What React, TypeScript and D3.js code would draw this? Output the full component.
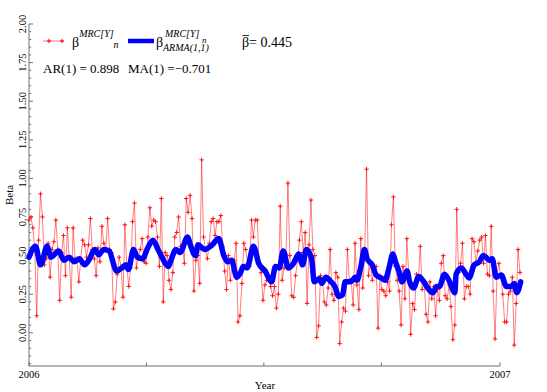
import React from "react";
import * as d3 from "d3";

// MRC beta estimates (daily), 2006 – mid Jan 2007
const RED_VALUES: number[] = [
  0.73, 0.75, 0.68, 0.54, 0.11, 0.60, 0.90, 0.75, 0.44, 0.48, 0.58, 0.36, 0.54, 0.59, 0.73, 0.54, 0.21, 0.52, 0.63, 0.37, 0.68, 0.48, 0.23, 0.68, 0.48, 0.47, 0.33, 0.48, 0.60, 0.57, 0.49, 0.57, 0.74, 0.54, 0.48, 0.37, 0.55, 0.46, 0.69, 0.58, 0.54, 0.74,
  0.54, 0.52, 0.155, 0.20, 0.38, 0.49, 0.43, 0.23, 0.70, 0.43, 0.30, 0.42, 0.72, 0.84, 0.42, 0.48, 0.54, 0.61, 0.46, 0.45, 0.62, 0.81, 0.69, 0.73, 0.72, 0.62, 0.43, 0.87, 0.20, 0.52, 0.50, 0.34, 0.28, 0.39, 0.62, 0.65, 0.75, 0.56, 0.56, 0.45, 0.87, 0.78, 0.89, 0.74, 0.27,
  0.47, 0.50, 0.32, 1.12, 0.62, 0.54, 0.48, 0.58, 0.72, 0.74, 0.63, 0.72, 0.72, 0.76, 0.56, 0.40, 0.28, 0.50, 0.34, 0.45, 0.47, 0.58, 0.07, 0.11, 0.32, 0.58, 0.54, 0.45, 0.43, 0.73, 0.62, 0.73, 0.73, 0.45, 0.39, 0.21, 0.31, 0.34, 0.36, 0.30, 0.24, 0.30, 0.16, 0.25, 0.82,
  0.34, 0.42, 0.51, 0.97, 0.50, 0.24, 0.23, 0.37, 0.47, 0.60, 0.72, 0.52, 0.65, 0.19, 0.57, 0.86, 0.54, 0.50, -0.03, 0.045, 0.37, 0.34, 0.20, 0.18, 0.29, 0.54, 0.25, 0.21, 0.39, 0.36, -0.07, 0.07, 0.16, 0.14, 0.54, 0.34, 0.33, 0.18, 0.58, 0.31, 0.15, 0.61,
  0.29, 0.50, 1.06, 0.37, 0.45, 0.34, 0.41, 0.43, 0.03, 0.37, 0.28, 0.27, 0.24, 0.33, 0.27, 0.70, 0.88, 0.43, 0.34, 0.27, 0.05, 0.43, 0.22, 0.61, 0.38, -0.01, 0.19, 0.15, 0.38, 0.34, 0.56, 0.28, 0.33, 0.12, 0.07, 0.33, 0.22, 0.30, 0.11, 0.28, 0.21,
  0.45, 0.50, 0.24, 0.22, 0.31, 0.17, -0.045, 0.05, 0.80, 0.39, 0.45, 0.58, 0.22, 0.30, 0.30, 0.25, 0.61, 0.59, 0.45, 0.53, 0.60, 0.62, 0.45, 0.63, 0.38, 0.37, 0.69, 0.27, -0.04, 0.37, 0.45, 0.36, 0.25, 0.07, 0.07, 0.25, 0.27, 0.36, -0.08, 0.19, 0.54, 0.39,
];

// ARMA(1,1) fitted beta: days since 2006-01-01 and values
const BLUE_DAYS: number[] = [
  0, 5, 9, 14, 17, 23, 27, 31, 35, 39, 43, 47, 51, 54, 58, 62, 68, 72, 75, 77, 81, 84, 88, 92, 96, 100, 103, 108, 110, 114, 117, 123, 125, 129, 131, 136, 142, 147, 151, 154, 157, 161, 164, 166, 169, 174, 178, 183, 188, 191, 194, 197, 201, 205, 209, 212, 215, 219, 221, 225, 227, 230, 234, 237, 240, 243, 245, 249, 253, 254, 257, 260, 262, 266, 269, 273, 276, 279, 282, 284, 287, 289, 293, 295, 298, 302, 306, 309, 313, 316, 318, 322, 326, 330, 331, 335, 339, 341, 345, 349, 352, 354, 357, 359, 362, 366, 370, 374, 376, 378, 381,
];
const BLUE_VALUES: number[] = [
  0.49, 0.56, 0.44, 0.56, 0.49, 0.53, 0.47, 0.49, 0.46, 0.48, 0.44, 0.48, 0.54, 0.505, 0.54, 0.53, 0.40, 0.42, 0.44, 0.41, 0.54, 0.49, 0.48, 0.55, 0.60, 0.54, 0.49, 0.43, 0.47, 0.54, 0.52, 0.62, 0.57, 0.50, 0.57, 0.54, 0.57, 0.61, 0.50, 0.46, 0.47, 0.36, 0.39, 0.43, 0.42, 0.56, 0.45, 0.40, 0.33, 0.43, 0.42, 0.53, 0.42, 0.45, 0.51, 0.44, 0.54, 0.48, 0.33, 0.35, 0.32, 0.36, 0.33, 0.30, 0.235, 0.245, 0.33, 0.33, 0.36, 0.34, 0.42, 0.54, 0.48, 0.44, 0.375, 0.355, 0.34, 0.42, 0.51, 0.46, 0.39, 0.33, 0.40, 0.33, 0.29, 0.365, 0.33, 0.29, 0.26, 0.30, 0.30, 0.38, 0.33, 0.26, 0.38, 0.42, 0.375, 0.355, 0.44, 0.46, 0.50, 0.49, 0.47, 0.48, 0.36, 0.375, 0.30, 0.30, 0.32, 0.26, 0.33,
];

const Y_MAJOR: number[] = [0, 0.25, 0.5, 0.75, 1, 1.25, 1.5, 1.75, 2];
const Y_LABELS: string[] = ["0.00", "0.25", "0.50", "0.75", "1.00", "1.25", "1.50", "1.75", "2.00"];
const X_TICKS: string[] = ["2006-01-01", "2006-04-02", "2006-07-02", "2006-10-01", "2007-01-01"];
const X_LABEL_DATES: string[] = ["2006-01-01", "2007-01-01"];
const X_LABELS: string[] = ["2006", "2007"];
const BETA_BAR = "0.445";
const AR1 = "0.898";
const MA1 = "\u22120.701";

const W = 547;
const H = 392;
const FONT = "'Liberation Serif', 'Times New Roman', serif";
const AXIS = "#707070";

export default function App() {
  const start = new Date(Date.UTC(2006, 0, 1));
  const end = new Date(Date.UTC(2007, 0, 1));
  const dataEnd = new Date(Date.UTC(2007, 0, 16, 12));
  const x = d3.scaleUtc().domain([start, end]).range([29, 500]);
  const y = d3.scaleLinear().domain([-0.215, 2.0]).range([366, 24]);
  const idx = d3
    .scaleLinear()
    .domain([0, RED_VALUES.length - 1])
    .range([start.getTime(), dataEnd.getTime()]);

  const redPts: [number, number][] = RED_VALUES.map((v, i) => [x(new Date(idx(i))), y(v)]);
  const bluePts: [number, number][] = BLUE_VALUES.map((v, i) => [
    x(d3.utcDay.offset(start, BLUE_DAYS[i])),
    y(v),
  ]);
  const line = d3.line<[number, number]>().x((d) => d[0]).y((d) => d[1]);
  const smooth = d3
    .line<[number, number]>()
    .x((d) => d[0])
    .y((d) => d[1])
    .curve(d3.curveMonotoneX);

  const minor = d3
    .range(-20, 201, 5)
    .map((k) => k / 100)
    .filter((v) => !Y_MAJOR.some((m) => Math.abs(m - v) < 1e-9));
  const parse = (s: string) => new Date(s + "T00:00:00Z");
  const x0 = x(start);
  const yb = y(-0.215);

  const plus = (cx: number, cy: number, key: string | number, s = 2.2) => (
    <path key={key} d={`M${cx - s},${cy}H${cx + s}M${cx},${cy - s}V${cy + s}`} stroke="#ff0000" strokeWidth={1} />
  );

  return (
    <svg
      width={W}
      height={H}
      style={{ position: "absolute", left: 0, top: 0, background: "#fff" }}
      fontFamily={FONT}
    >
      {/* axes */}
      <line x1={x0} x2={x0} y1={y(2.0)} y2={yb} stroke={AXIS} strokeWidth={1} />
      <line x1={x0} x2={x(end)} y1={yb} y2={yb} stroke={AXIS} strokeWidth={1} />
      {Y_MAJOR.map((v, i) => (
        <g key={"ym" + i}>
          <line x1={x0} x2={x0 + 4} y1={y(v)} y2={y(v)} stroke={AXIS} />
          <text
            transform={`translate(26,${y(v)}) rotate(-90)`}
            textAnchor="middle"
            fontSize={10.5}
            fill="#000"
          >
            {Y_LABELS[i]}
          </text>
        </g>
      ))}
      {minor.map((v, i) => (
        <line key={"yn" + i} x1={x0} x2={x0 + 2.2} y1={y(v)} y2={y(v)} stroke={AXIS} />
      ))}
      {X_TICKS.map((d, i) => (
        <line key={"xt" + i} x1={x(parse(d))} x2={x(parse(d))} y1={yb} y2={yb - 3.5} stroke={AXIS} />
      ))}
      {X_LABELS.map((lab, i) => (
        <text key={"xl" + i} x={x(parse(X_LABEL_DATES[i]))} y={378} textAnchor="middle" fontSize={10.5}>
          {lab}
        </text>
      ))}
      <text x={265} y={389} textAnchor="middle" fontSize={11}>
        Year
      </text>
      <text transform="translate(13,195) rotate(-90)" textAnchor="middle" fontSize={11}>
        Beta
      </text>

      {/* red series */}
      <path d={line(redPts) || ""} fill="none" stroke="#ff0000" strokeOpacity={0.5} strokeWidth={1} />
      <g opacity={0.9}>{redPts.map((p, i) => plus(p[0], p[1], i))}</g>

      {/* blue series */}
      <path
        d={smooth(bluePts) || ""}
        fill="none"
        stroke="#0000ff"
        strokeWidth={5.5}
        strokeLinejoin="round"
        strokeLinecap="round"
      />

      {/* legend */}
      <line x1={43} x2={64} y1={41} y2={41} stroke="#ff0000" strokeOpacity={0.5} />
      {plus(49, 41, "lg1")}
      {plus(62, 41, "lg2")}
      <text x={72} y={47} fontSize={14}>
        β
        <tspan fontSize={10} fontStyle="italic" dy={-10}>MRC[Y]</tspan>
        <tspan fontSize={10} fontStyle="italic" dy={11}>n</tspan>
      </text>
      <line x1={128} x2={154} y1={41} y2={41} stroke="#0000ff" strokeWidth={4.5} />
      <text x={156} y={47} fontSize={14}>
        β
      </text>
      <text x={165} y={37} fontSize={10} fontStyle="italic">
        MRC[Y]
      </text>
      <text x={202} y={43} fontSize={9} fontStyle="italic">
        n
      </text>
      <text x={163} y={51} fontSize={10} fontStyle="italic">
        ARMA(1,1)
      </text>
      <text x={242} y={47} fontSize={14}>
        β= {BETA_BAR}
      </text>
      <line x1={242.5} x2={249} y1={35.5} y2={35.5} stroke="#000" strokeWidth={0.8} />
      <text x={43} y={73} fontSize={13}>
        AR(1) = {AR1}
      </text>
      <text x={128} y={73} fontSize={13}>
        MA(1) ={MA1}
      </text>
    </svg>
  );
}
